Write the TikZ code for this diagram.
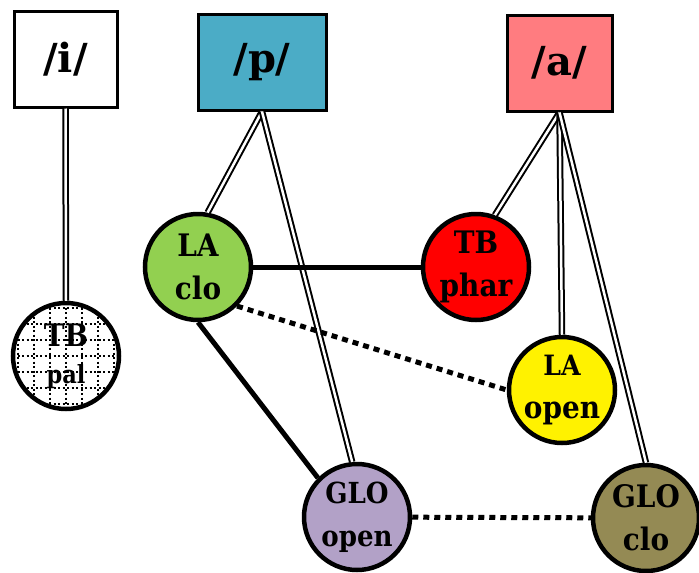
\documentclass[tikz,border=0pt]{standalone}
\usepackage{fontspec}
\setmainfont{DejaVu Serif Condensed}
\newfontfamily\boxfont{DejaVu Serif}

\definecolor{pblue}{HTML}{4BACC6}
\definecolor{apink}{HTML}{FF7C80}
\definecolor{lagreen}{HTML}{92D050}
\definecolor{glopurple}{HTML}{B2A1C7}
\definecolor{gloolive}{HTML}{948A54}

\begin{document}
\begin{tikzpicture}[x=1pt,y=-1pt,
            phon/.style={draw,line width=3pt,minimum height=96pt,
                font=\boxfont\bfseries\fontsize{40}{44}\selectfont},
            feat/.style={circle,draw,line width=4.5pt,minimum size=106pt,
                inner sep=0pt,align=center,
                font=\bfseries\fontsize{31}{43}\selectfont},
            glofeat/.style={feat,font=\bfseries\fontsize{29}{43}\selectfont},
            link/.style={double,line width=2pt,double distance=2.5pt},
            assoc/.style={line width=5pt},
            dots/.style={line width=5pt,dash pattern=on 6pt off 5pt},
            gridline/.style={line width=1.1pt,dash pattern=on 2pt off 2.5pt}
        ]
            \useasboundingbox (0,0) rectangle (699,573);
            % segments
            \node[phon,minimum width=103pt] (i) at (65.5,59) {/i/};
            \node[phon,fill=pblue,minimum width=128pt] (p) at (262,62) {/p/};
            \node[phon,fill=apink,minimum width=105pt] (a) at (559.5,63) {/a/};
            % features
            \node[feat,fill=white,path picture={
                \foreach \k in {-3,...,3} {
                    \draw[gridline] ([xshift=16*\k pt]path picture bounding box.north)
                        -- ([xshift=16*\k pt]path picture bounding box.south);
                    \draw[gridline] ([yshift=16*\k pt]path picture bounding box.west)
                        -- ([yshift=16*\k pt]path picture bounding box.east);
                }}] (tbpal) at (66,356)
                {TB\\[-6pt]{\fontsize{25}{30}\selectfont pal}};
            \node[feat,fill=lagreen] (laclo) at (198,267) {LA\\clo};
            \node[feat,fill=red] (tbphar) at (476,267) {TB\\phar};
            \node[feat,fill=yellow] (laopen) at (562,390)
                {{\fontsize{28}{30}\selectfont LA}\\open};
            \node[glofeat,fill=glopurple] (gloopen) at (357,517) {GLO\\open};
            \node[feat,fill=gloolive] (gloclo) at (646,518) {GLO\\clo};
            % association lines
            \draw[link] (i.south) -- (tbpal.north);
            \draw[link] (p.south) -- (laclo.80);
            \draw[link] (p.south) -- (gloopen.95);
            \draw[link] (a.south) -- (tbphar.70);
            \draw[link] (a.south) -- (laopen.north);
            \draw[link] (a.south) -- (gloclo.north);
            \draw[assoc] (laclo) -- (tbphar);
            \draw[assoc] (laclo.south) -- (gloopen.135);
            \draw[dots] (laclo.-45) -- (laopen.west);
            \draw[dots] (gloopen) -- (gloclo);
        \end{tikzpicture}
\end{document}
